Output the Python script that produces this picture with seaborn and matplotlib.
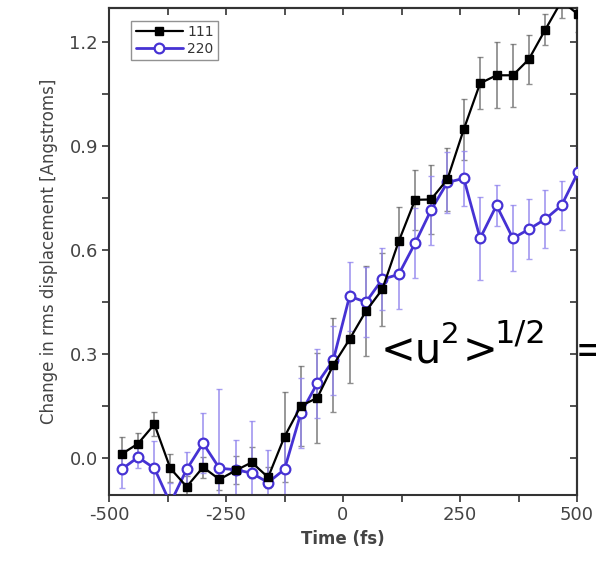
import matplotlib
matplotlib.use("Agg")
import matplotlib.pyplot as plt
import seaborn as sns
from matplotlib.ticker import MultipleLocator, FixedLocator

# ---- data ----
time_fs = [-473, -438, -403, -369, -334, -299, -264, -229, -195, -160,
           -125, -90, -55, -21, 14, 49, 84, 119, 154, 188,
           223, 258, 293, 328, 363, 397, 432, 467, 502]
rms_111 = [0.012, 0.042, 0.098, -0.029, -0.082, -0.026, -0.061, -0.035, -0.012, -0.055,
           0.062, 0.151, 0.174, 0.268, 0.343, 0.424, 0.487, 0.625, 0.745, 0.746,
           0.804, 0.948, 1.081, 1.104, 1.104, 1.150, 1.235, 1.318, 1.280]
err_111 = [0.048, 0.032, 0.035, 0.040, 0.030, 0.030, 0.030, 0.040, 0.045, 0.030,
           0.130, 0.115, 0.130, 0.135, 0.125, 0.130, 0.105, 0.100, 0.087, 0.100,
           0.090, 0.087, 0.075, 0.095, 0.090, 0.070, 0.045, 0.050, 0.050]
rms_220 = [-0.032, 0.003, -0.029, -0.130, -0.032, 0.043, -0.029, -0.033, -0.043, -0.070,
           -0.032, 0.130, 0.216, 0.282, 0.467, 0.450, 0.516, 0.530, 0.620, 0.715,
           0.795, 0.807, 0.634, 0.729, 0.634, 0.660, 0.689, 0.729, 0.824]
err_220 = [0.055, 0.030, 0.080, 0.060, 0.050, 0.087, 0.230, 0.087, 0.150, 0.095,
           0.090, 0.100, 0.100, 0.100, 0.100, 0.100, 0.090, 0.100, 0.100, 0.100,
           0.087, 0.080, 0.120, 0.060, 0.095, 0.087, 0.084, 0.070, 0.070]
series_labels = ["111", "220"]
x_ticks = [-500, -250, 0, 250, 500]
y_ticks = [0.0, 0.3, 0.6, 0.9, 1.2]
x_label = "Time (fs)"
y_label = "Change in rms displacement [Angstroms]"

sns.set_theme(style="ticks")
plt.rcParams["font.family"] = ["DejaVu Sans"]
plt.rcParams["mathtext.fontset"] = "dejavusans"

W, H = 596, 577
fig = plt.figure(figsize=(W / 100, H / 100), dpi=100)
fig.patch.set_facecolor("white")
ax = fig.add_axes([109 / W, 1 - 495 / H, (577 - 109) / W, (495 - 8) / H])
ax.set_facecolor("white")

BLUE = "#4632d4"
ax.errorbar(time_fs, rms_111, yerr=err_111, fmt="none", ecolor="#6a6a6a",
            elinewidth=1.3, capsize=2.5, capthick=1.0, alpha=0.75, zorder=2)
ax.errorbar(time_fs, rms_220, yerr=err_220, fmt="none", ecolor="#9488ee",
            elinewidth=1.3, capsize=2.5, capthick=1.0, alpha=0.8, zorder=2)

sns.lineplot(x=time_fs, y=rms_111, ax=ax, color="black", marker="s",
             markersize=6, markeredgecolor="black", markerfacecolor="black",
             markeredgewidth=1, linewidth=1.6, label=series_labels[0],
             sort=False, errorbar=None, zorder=4)
sns.lineplot(x=time_fs, y=rms_220, ax=ax, color=BLUE, marker="o",
             markersize=7, markeredgecolor=BLUE, markerfacecolor="white",
             markeredgewidth=1.6, linewidth=2.0, label=series_labels[1],
             sort=False, errorbar=None, zorder=3)

ax.set_xlim(-500, 500)
ax.set_ylim(-0.106, 1.298)
ax.xaxis.set_major_locator(FixedLocator(x_ticks))
ax.yaxis.set_major_locator(FixedLocator(y_ticks))
ax.set_xticklabels([str(v) for v in x_ticks])
ax.set_yticklabels([f"{v:.1f}" for v in y_ticks])
ax.xaxis.set_minor_locator(MultipleLocator(125))
ax.yaxis.set_minor_locator(MultipleLocator(0.15))

for s in ax.spines.values():
    s.set_color("#333333")
    s.set_linewidth(1.5)
ax.tick_params(which="both", direction="out", length=5, width=1.2,
               color="#333333", labelsize=13, labelcolor="#444444", pad=3)

# mirrored inward ticks on top and right
secx = ax.secondary_xaxis("top")
secx.xaxis.set_major_locator(FixedLocator(x_ticks))
secx.xaxis.set_minor_locator(MultipleLocator(125))
secx.tick_params(which="both", direction="in", length=5, width=1.2,
                 color="#333333", labeltop=False)
secy = ax.secondary_yaxis("right")
secy.yaxis.set_major_locator(FixedLocator(y_ticks))
secy.yaxis.set_minor_locator(MultipleLocator(0.15))
secy.tick_params(which="both", direction="in", length=5, width=1.2,
                 color="#333333", labelright=False)
for sa in (secx, secy):
    for s in sa.spines.values():
        s.set_color("#333333")
        s.set_linewidth(1.5)

ax.set_xlabel(x_label, fontsize=12, fontweight="bold", color="#444444", labelpad=4)
ax.set_ylabel(y_label, fontsize=12, color="#444444", labelpad=8)

leg = ax.legend(loc="upper left", bbox_to_anchor=(0.048, 0.974), borderaxespad=0,
                fontsize=10, frameon=True, fancybox=False, edgecolor="#777777",
                handlelength=3.4, handletextpad=0.3, borderpad=0.3,
                labelspacing=0.25)
leg.get_frame().set_linewidth(1.0)
for t in leg.get_texts():
    t.set_color("#333333")

# annotation  <u^2>^{1/2} =
def px(x, y):
    return x / W, 1 - y / H

fig.text(*px(381, 363), "<u", fontsize=30, color="black", va="baseline", ha="left")
fig.text(*px(441, 343), "2", fontsize=21, color="black", va="baseline", ha="left")
fig.text(*px(463, 363), ">", fontsize=30, color="black", va="baseline", ha="left")
fig.text(*px(494, 343), "1/2", fontsize=23, color="black", va="baseline", ha="left")
fig.text(*px(575, 363), "=", fontsize=30, color="black", va="baseline", ha="left")

fig.savefig("out.png", dpi=100, facecolor="white")
